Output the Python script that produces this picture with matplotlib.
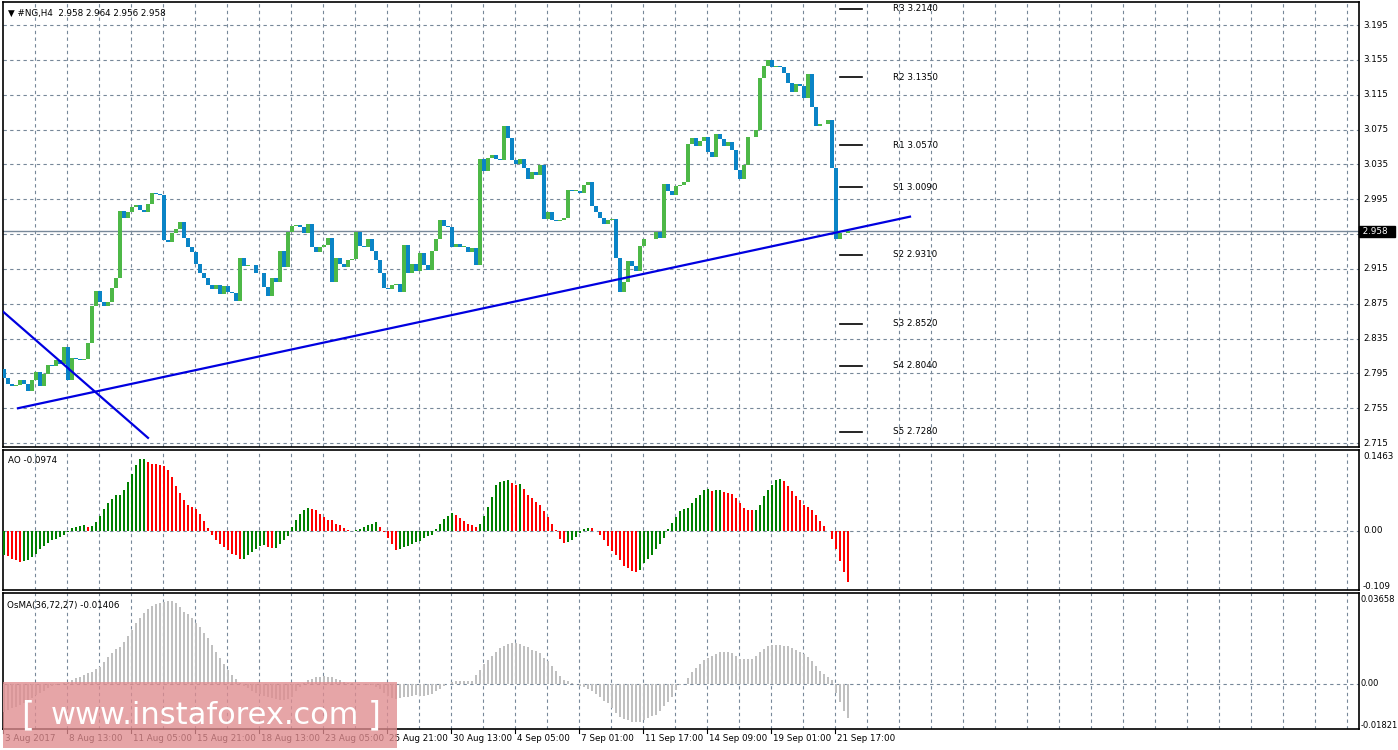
import matplotlib
matplotlib.use("Agg")
import matplotlib.pyplot as plt
import numpy as np
from matplotlib.patches import Rectangle

# ---------------- data ----------------
closes = [2.790,2.783,2.780,2.782,2.787,2.783,2.775,2.787,2.797,2.781,
          2.794,2.805,2.803,2.810,2.806,2.825,2.787,2.813,2.812,2.810,
          2.812,2.830,2.872,2.890,2.877,2.872,2.877,2.893,2.904,2.982,
          2.974,2.980,2.986,2.988,2.983,2.980,2.989,3.002,3.001,3.000,
          2.948,2.946,2.956,2.961,2.969,2.951,2.940,2.934,2.921,2.910,
          2.905,2.896,2.892,2.896,2.886,2.895,2.889,2.887,2.878,2.928,
          2.918,2.920,2.919,2.910,2.910,2.894,2.884,2.905,2.900,2.936,
          2.917,2.957,2.964,2.965,2.963,2.956,2.966,2.940,2.934,2.940,
          2.942,2.951,2.900,2.928,2.921,2.917,2.925,2.926,2.957,2.941,
          2.940,2.949,2.936,2.925,2.910,2.893,2.892,2.896,2.898,2.889,
          2.942,2.910,2.921,2.913,2.933,2.919,2.914,2.935,2.949,2.971,
          2.964,2.963,2.940,2.944,2.940,2.940,2.934,2.939,2.920,3.041,
          3.027,3.042,3.046,3.041,3.040,3.079,3.065,3.040,3.036,3.041,
          3.031,3.018,3.026,3.023,3.034,2.972,2.980,2.971,2.970,2.971,
          2.974,3.006,3.005,3.005,3.002,3.011,3.015,2.987,2.980,2.973,
          2.967,2.971,2.972,2.927,2.889,2.900,2.924,2.918,2.913,2.941,
          2.949,2.949,2.949,2.957,2.951,3.012,3.005,3.000,3.010,3.011,
          3.015,3.058,3.065,3.056,3.062,3.066,3.049,3.044,3.070,3.064,
          3.056,3.061,3.052,3.029,3.018,3.034,3.066,3.066,3.074,3.134,
          3.148,3.155,3.147,3.148,3.147,3.140,3.128,3.118,3.127,3.125,
          3.111,3.139,3.101,3.079,3.081,3.081,3.086,3.031,2.949,2.956,
          2.956,2.958]
first_open = 2.800

ao = [-0.048,-0.050,-0.055,-0.057,-0.061,-0.059,-0.057,-0.051,-0.045,-0.035,
      -0.030,-0.024,-0.018,-0.015,-0.011,-0.007,-0.002,0.005,0.007,0.009,
      0.011,0.007,0.009,0.018,0.029,0.043,0.055,0.064,0.071,0.072,
      0.080,0.096,0.113,0.130,0.142,0.143,0.137,0.133,0.132,0.130,
      0.128,0.120,0.107,0.088,0.075,0.061,0.051,0.047,0.043,0.034,
      0.019,0.005,-0.007,-0.018,-0.025,-0.032,-0.037,-0.045,-0.048,-0.055,
      -0.055,-0.048,-0.042,-0.035,-0.030,-0.028,-0.032,-0.033,-0.033,-0.026,
      -0.017,-0.009,0.007,0.021,0.033,0.041,0.046,0.044,0.041,0.034,
      0.028,0.022,0.021,0.014,0.011,0.005,0.001,0.000,0.001,0.004,
      0.008,0.011,0.014,0.017,0.008,-0.002,-0.013,-0.025,-0.037,-0.035,
      -0.032,-0.030,-0.026,-0.022,
      -0.019,-0.013,-0.010,-0.008,0.003,0.014,0.024,0.030,0.036,0.032,
      0.026,0.020,0.014,0.012,0.008,0.014,0.030,0.047,0.067,0.091,
      0.097,0.099,0.101,0.095,0.091,0.092,0.083,0.071,0.065,0.057,
      0.051,0.040,0.028,0.014,0.002,-0.015,-0.023,-0.022,-0.018,-0.011,
      -0.004,0.004,0.006,0.005,-0.001,-0.008,-0.018,-0.029,-0.039,-0.047,
      -0.057,-0.069,-0.074,-0.080,-0.082,-0.077,-0.063,-0.055,-0.047,-0.036,
      -0.026,-0.014,0.004,0.016,0.028,0.040,0.043,0.045,0.055,0.065,
      0.071,0.081,0.083,0.079,0.080,0.0805,0.077,0.075,0.074,0.065,
      0.055,0.045,0.042,0.041,0.042,0.051,0.069,0.081,0.091,0.101,
      0.103,0.099,0.089,0.079,0.069,0.061,0.051,0.047,0.042,0.032,
      0.020,0.010,-0.001,-0.016,-0.036,-0.059,-0.081,-0.100]

osma = [-0.0120,-0.0113,-0.0106,-0.0099,-0.0091,-0.0084,-0.0077,-0.0062,-0.0048,-0.0041,
        -0.0029,-0.0019,-0.0009,-0.0004,0.0000,0.0003,0.0010,0.0017,0.0025,0.0029,
        0.0039,0.0046,0.0054,0.0064,0.0075,0.0097,0.0119,0.0133,0.0151,0.0162,
        0.0184,0.0209,0.0235,0.0264,0.0286,0.0307,0.0325,0.0339,0.0348,0.0354,
        0.0358,0.0361,0.0361,0.0351,0.0336,0.0315,0.0305,0.0286,0.0267,0.0247,
        0.0223,0.0199,0.0170,0.0141,0.0112,0.0087,0.0061,0.0039,0.0020,0.0006,
        -0.0009,-0.0019,-0.0029,-0.0038,-0.0044,-0.0052,-0.0058,-0.0062,-0.0067,-0.0070,
        -0.0070,-0.0067,-0.0055,-0.0029,-0.0012,0.0006,0.0017,0.0023,0.0029,0.0032,
        0.0035,0.0032,0.0029,0.0023,0.0017,0.0010,0.0006,0.0003,0.0000,-0.0001,
        -0.0003,-0.0004,-0.0004,-0.0012,-0.0023,-0.0038,-0.0052,-0.0062,-0.0067,-0.0062,
        -0.0058,-0.0055,-0.0052,-0.0048,
        -0.0054,-0.0051,-0.0049,-0.0042,-0.0032,-0.0020,-0.0010,0.0001,0.0007,0.0013,
        0.0015,0.0015,0.0015,0.0015,0.0041,0.0062,0.0088,0.0103,0.0120,0.0138,
        0.0155,0.0167,0.0175,0.0177,0.0177,0.0174,0.0167,0.0161,0.0149,0.0144,
        0.0135,0.0113,0.0099,0.0077,0.0055,0.0036,0.0019,0.0012,0.0004,0.0000,
        -0.0010,-0.0015,-0.0022,-0.0032,-0.0042,-0.0057,-0.0073,-0.0083,-0.0104,-0.0126,
        -0.0144,-0.0152,-0.0158,-0.0164,-0.0165,-0.0165,-0.0155,-0.0148,-0.0141,-0.0133,
        -0.0119,-0.0097,-0.0078,-0.0057,-0.0028,-0.0004,0.0002,0.0026,0.0051,0.0070,
        0.0088,0.0103,0.0113,0.0123,0.0132,0.0138,0.0141,0.0141,0.0135,0.0120,
        0.0110,0.0110,0.0110,0.0110,0.0123,0.0138,0.0152,0.0164,0.0171,0.0171,
        0.0171,0.0167,0.0164,0.0155,0.0149,0.0138,0.0132,0.0116,0.0099,0.0077,
        0.0058,0.0044,0.0030,0.0016,-0.0039,-0.0080,-0.0119,-0.0148]

date_labels = ["3 Aug 2017","8 Aug 13:00","11 Aug 05:00","15 Aug 21:00","18 Aug 13:00",
               "23 Aug 05:00","25 Aug 21:00","30 Aug 13:00","4 Sep 05:00","7 Sep 01:00",
               "11 Sep 17:00","14 Sep 09:00","19 Sep 01:00","21 Sep 17:00"]
price_ticks = [3.195,3.155,3.115,3.075,3.035,2.995,2.955,2.915,2.875,2.835,2.795,2.755,2.715]
pivot_names = ["R3","R2","R1","S1","S2","S3","S4","S5"]
pivot_values = [3.2140,3.1350,3.0570,3.0090,2.9310,2.8520,2.8040,2.7280]
trend_up = ([3.5, 226.5], [2.755, 2.975])
trend_down = ([-0.25, 36.0], [2.866, 2.721])
last_price = 2.958

# ---------------- figure ----------------
W, H = 1398, 750
fig = plt.figure(figsize=(W/100, H/100), dpi=100)
fig.patch.set_facecolor("white")
FS = 6.3

def ax_rect(top_px, bot_px):
    return [3/W, 1-bot_px/H, (1359-3)/W, (bot_px-top_px)/H]

xl = (-0.25, 338.75)
grid_c = "#778899"
ax = fig.add_axes(ax_rect(2, 447))
ax_ao = fig.add_axes(ax_rect(450, 590))
ax_os = fig.add_axes(ax_rect(593, 729))

for a in (ax, ax_ao, ax_os):
    a.set_xlim(*xl)
    a.set_xticks([]); a.set_yticks([])
    for s in a.spines.values():
        s.set_color("black"); s.set_linewidth(1.2)
    for gx in np.arange(7.75, 338, 8):
        a.axvline(gx, color=grid_c, lw=0.8, ls=(0, (3, 3)), zorder=0)

y0, y1 = 2.7105, 3.2215
ax.set_ylim(y0, y1)
for p in price_ticks:
    ax.axhline(p, color=grid_c, lw=0.8, ls=(0, (3, 3)), zorder=0)
    if abs(p - last_price) > 0.01:
        ax.text(1.003, (p-y0)/(y1-y0), f"{p:.3f}", transform=ax.transAxes,
                fontsize=FS, va="center", ha="left")

# candles
n = len(closes)
opens = [first_open] + closes[:-1]
for i in range(n):
    o, c = opens[i], closes[i]
    col = "#4DB847" if c >= o else "#0A84C6"
    hgt = max(abs(c-o), 0.0008)
    ax.add_patch(Rectangle((i-0.38, min(o, c)), 0.76, hgt, color=col, lw=0, zorder=3))

ax.plot(*trend_up, color="#0000E0", lw=1.6, zorder=4)
ax.plot(*trend_down, color="#0000E0", lw=1.6, zorder=4)
ax.axhline(last_price, color="#778899", lw=1.0, zorder=2)
ax.text(1.001, (last_price-y0)/(y1-y0), " 2.958  ", transform=ax.transAxes,
        fontsize=FS, color="white", va="center", ha="left",
        bbox=dict(boxstyle="square,pad=0.15", fc="black", ec="black"))

for name, v in zip(pivot_names, pivot_values):
    ax.plot([209, 214.5], [v, v], color="black", lw=1.2, zorder=4)
    ax.text(222.2, v, f"{name} {v:.4f}", fontsize=FS, va="center", ha="left")

ax.text(0.004, 0.985, "\u25bc #NG,H4  2.958 2.964 2.956 2.958", transform=ax.transAxes,
        fontsize=FS, va="top", ha="left")

# AO
ao_arr = np.array(ao)
ia = np.arange(len(ao_arr))
cols = ["#008000" if (k == 0 or ao_arr[k] >= ao_arr[k-1]) else "#FF0000" for k in ia]
ax_ao.bar(ia, ao_arr, width=0.72, color=cols, zorder=3)
ax_ao.set_ylim(-0.1166, 0.160)
ax_ao.axhline(0, color=grid_c, lw=0.8, ls=(0, (3, 3)), zorder=0)
ax_ao.text(0.004, 0.96, "AO -0.0974", transform=ax_ao.transAxes, fontsize=FS, va="top")
for val, s in [(0.1463, "0.1463"), (0.0, "0.00"), (-0.109, "-0.109")]:
    ax_ao.text(1.003, (val+0.1166)/(0.160+0.1166), s, transform=ax_ao.transAxes,
               fontsize=FS, va="center", ha="left")

# OsMA
os_arr = np.array(osma)
io = np.arange(len(os_arr))
ax_os.bar(io, os_arr, width=0.72, color="#C0C0C0", zorder=3)
ax_os.set_ylim(-0.0196, 0.0396)
ax_os.axhline(0, color=grid_c, lw=0.8, ls=(0, (3, 3)), zorder=0)
ax_os.text(0.003, 0.94, "OsMA(36,72,27) -0.01406", transform=ax_os.transAxes, fontsize=FS, va="top")
for val, s in [(0.03658, "0.03658"), (0.0, "0.00"), (-0.01821, "-0.01821")]:
    ax_os.text(1.001, (val+0.0196)/(0.0396+0.0196), s, transform=ax_os.transAxes,
               fontsize=6.0, va="center", ha="left")

# date labels
for k, lab in enumerate(date_labels):
    xi = -0.25 + 16*k
    ax_os.plot([xi, xi], [-0.0196, -0.0212], color="black", lw=0.8, clip_on=False)
    ax_os.text(xi + 0.6, -0.0218, lab, fontsize=FS, va="top", ha="left")

# watermark
fig.patches.append(Rectangle((3/W, 1-748/H), 394/W, 66/H, transform=fig.transFigure,
                             fc="#E08C8F", alpha=0.78, ec="none", zorder=10))
fig.text(28/W, 1-716/H, "[", color="white", fontsize=24, ha="center", va="center", zorder=11)
fig.text(205/W, 1-716/H, "www.instaforex.com", color="white", fontsize=22,
         ha="center", va="center", zorder=11)
fig.text(374/W, 1-716/H, "]", color="white", fontsize=24, ha="center", va="center", zorder=11)

fig.savefig("out.png", dpi=100)
